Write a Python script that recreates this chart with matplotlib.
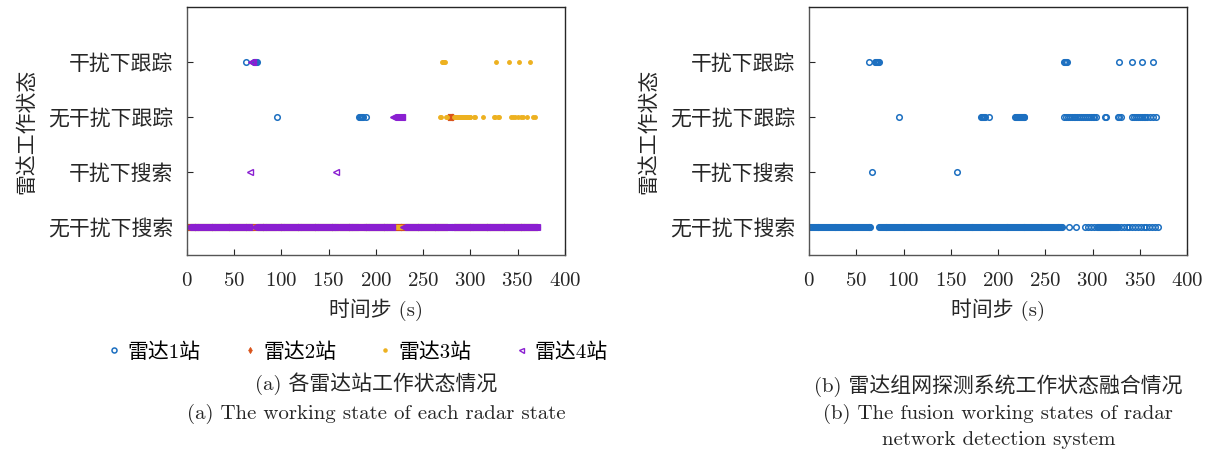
import matplotlib
matplotlib.use("Agg")
import matplotlib.pyplot as plt
import numpy as np

plt.rcParams['font.family'] = ['cmr10', 'Noto Sans CJK SC']
plt.rcParams['mathtext.fontset'] = 'cm'
plt.rcParams['axes.formatter.use_mathtext'] = True
plt.rcParams['axes.unicode_minus'] = False

# working states (bottom to top)
states = ['无干扰下搜索', '干扰下搜索', '无干扰下跟踪', '干扰下跟踪']
xticks = [0, 50, 100, 150, 200, 250, 300, 350, 400]

# time steps (s)
t_start, t_end = 1, 370

# radar stations: times spent outside "无干扰下搜索"
r1_track = [95, 182, 183, 184, 185, 186, 190]
r1_jam_track = [62, 71, 72, 73, 74]
r2_track = [276, 277, 278, 279, 280, 281, 282]
r3_track = [268, 269, 270, 271, 272, 273, 274, 275, 283, 284, 285, 286, 287, 288,
            289, 290, 291, 292, 293, 294, 295, 296, 297, 298, 299, 300, 304, 305,
            313, 325, 326, 329, 330, 341, 343, 345, 347, 350, 354, 356, 360, 363, 366, 368]
r3_jam_track = [270, 271, 272, 273, 327, 341, 351, 363]
r4_jam_search = [67, 158]
r4_track = [218, 219, 220, 221, 222, 223, 224, 225, 226, 227, 228]
r4_jam_track = [68, 69, 70]

# fusion result
f_search = (list(range(1, 66)) + list(range(74, 269)) +
            [275, 283, 292, 295, 298, 302] + list(range(305, 328)) +
            [330, 333, 336, 339, 342, 345, 348, 351, 354, 357, 360, 363, 366, 369])
f_jam_search = [67, 157]
f_track = [95, 182, 183, 184, 185, 186, 190, 218, 219, 220, 221, 222, 223, 224,
           225, 226, 227, 228, 270, 272, 274, 276, 278, 280, 282, 284, 286, 288,
           290, 292, 294, 296, 298, 300, 302, 304, 313, 314, 327, 328, 330,
           342, 344, 346, 348, 350, 352, 354, 356, 358, 361, 364, 367]
f_jam_track = [63, 70, 71, 72, 73, 74, 270, 271, 272, 273, 328, 342, 352, 364]


def station_states(track=(), jam_search=(), jam_track=()):
    t = np.arange(t_start, t_end + 1)
    s = np.ones_like(t)
    s[np.isin(t, jam_search)] = 2
    s[np.isin(t, track)] = 3
    s[np.isin(t, jam_track)] = 4
    return t, s


c_blue = '#1c6fc0'
c_red = '#d9531a'
c_yel = '#edb120'
c_pur = '#8a1fd1'
ink = '#262626'


def style(ax):
    ax.set_xlim(0, 400)
    ax.set_ylim(0.5, 5)
    ax.set_xticks(xticks)
    ax.set_yticks([1, 2, 3, 4])
    ax.set_yticklabels(states)
    ax.tick_params(direction='in', length=4, labelsize=15, colors=ink, pad=10)
    ax.tick_params(axis='x', pad=12)
    for sp in ax.spines.values():
        sp.set_color(ink)
        sp.set_linewidth(1.0)
    ax.spines['left'].set_color('#555555')
    ax.spines['bottom'].set_color('#555555')
    ax.set_xlabel('时间步 (s)', fontsize=15, color=ink, labelpad=6)
    ax.set_ylabel('雷达工作状态', fontsize=15, color=ink, labelpad=8)


fig = plt.figure(figsize=(12.1, 4.53), dpi=100)
ax1 = fig.add_axes([0.1545, 0.437, 0.3124, 0.5475])
ax2 = fig.add_axes([0.6686, 0.437, 0.3124, 0.5475])

t1, s1 = station_states(r1_track, [], r1_jam_track)
t2, s2 = station_states(r2_track)
t3, s3 = station_states(r3_track, [], r3_jam_track)
t4, s4 = station_states(r4_track, r4_jam_search, r4_jam_track)

h1, = ax1.plot(t1, s1, ls='none', marker='o', ms=4, mew=1.1, mfc='none', mec=c_blue, label='雷达1站')
h2, = ax1.plot(t2, s2, ls='none', marker='d', ms=3.5, mew=0.5, mfc=c_red, mec=c_red, label='雷达2站')
h3, = ax1.plot(t3, s3, ls='none', marker='.', ms=5, mfc=c_yel, mec=c_yel, label='雷达3站')
h4, = ax1.plot(t4, s4, ls='none', marker='<', ms=4, mew=1.0, mfc='none', mec=c_pur, label='雷达4站')
style(ax1)

fy = [1] * len(f_search) + [2] * len(f_jam_search) + [3] * len(f_track) + [4] * len(f_jam_track)
fx = f_search + f_jam_search + f_track + f_jam_track
ax2.plot(fx, fy, ls='none', marker='o', ms=4, mew=1.1, mfc='none', mec=c_blue)
style(ax2)

fig.legend(handles=[h1, h2, h3, h4], ncol=4, loc='center', bbox_to_anchor=(0.296, 0.223),
           frameon=False, fontsize=15, handlelength=0.5, handletextpad=0.4,
           columnspacing=2.1, markerscale=0.9)

fig.text(0.311, 0.153, '(a) 各雷达站工作状态情况', ha='center', va='center', fontsize=15, color=ink)
fig.text(0.311, 0.087, '(a) The working state of each radar state', ha='center', va='center',
         fontsize=15, color=ink)
fig.text(0.825, 0.148, '(b) 雷达组网探测系统工作状态融合情况', ha='center', va='center', fontsize=15, color=ink)
fig.text(0.825, 0.087, '(b) The fusion working states of radar', ha='center', va='center',
         fontsize=15, color=ink)
fig.text(0.825, 0.028, 'network detection system', ha='center', va='center', fontsize=15, color=ink)

fig.savefig('out.png', dpi=100)
